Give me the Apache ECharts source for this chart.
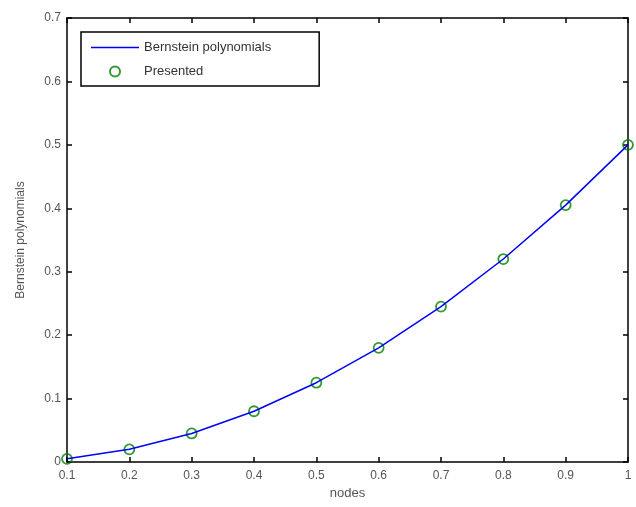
<!DOCTYPE html>
<html><head><meta charset="utf-8">
<script src="https://cdn.jsdelivr.net/npm/echarts@6/dist/echarts.min.js"></script>
<style>html,body{margin:0;padding:0;background:#fff}#c{width:636px;height:507px}</style>
</head><body><div id="c"></div>
<script>
const nodes = [0.1,0.2,0.3,0.4,0.5,0.6,0.7,0.8,0.9,1.0];
const bernstein = [0.005,0.02,0.045,0.08,0.125,0.18,0.245,0.32,0.405,0.5];
const presented = [0.005,0.02,0.045,0.08,0.125,0.18,0.245,0.32,0.405,0.5];
const lineData = nodes.map((x,i)=>[x,bernstein[i]]);
const ptData = nodes.map((x,i)=>[x,presented[i]]);
const font = 'Liberation Sans, Arial, sans-serif';
const lab = {color:'#555', fontSize:12, fontFamily:font};
const chart = echarts.init(document.getElementById('c'));
const tick = {show:true, inside:true, length:5, lineStyle:{color:'#000', width:1.5}};
chart.setOption({
  animation:false,
  grid:{left:67,right:8,top:18,bottom:45},
  legend:{
    show:true,
    orient:'vertical', left:81, top:32,
    backgroundColor:'#fff', borderColor:'#000', borderWidth:1.5,
    padding:[9,48,8,10], itemGap:11, itemWidth:48, itemHeight:10,
    symbolKeepAspect:true,
    textStyle:{color:'#333', fontSize:13, fontFamily:font},
    data:[
      {name:'Bernstein polynomials', icon:'path://M0,0L48,0L48,1.6L0,1.6Z', itemStyle:{color:'#0000ff'}},
      {name:'Presented', icon:'circle', itemStyle:{color:'#fff', borderColor:'#008000', borderWidth:2}}
    ]
  },
  xAxis:[{
    type:'value', min:0.1, max:1, interval:0.1,
    name:'nodes', nameLocation:'middle', nameGap:25, nameTextStyle:{color:'#555',fontSize:13,fontFamily:font},
    axisLine:{show:true,onZero:false,lineStyle:{color:'#000',width:1.5}}, axisTick:tick,
    axisLabel:{...lab, margin:8, formatter:v=>(Math.round(v*10)/10).toString()},
    splitLine:{show:false}
  },{
    type:'value', position:'top', min:0.1, max:1, interval:0.1,
    axisLine:{show:true,onZero:false,lineStyle:{color:'#000',width:1.5}}, axisTick:tick,
    axisLabel:{show:false}, splitLine:{show:false}
  }],
  yAxis:[{
    type:'value', min:0, max:0.7, interval:0.1,
    name:'Bernstein polynomials', nameLocation:'middle', nameGap:40, nameTextStyle:{color:'#555',fontSize:12,fontFamily:font},
    axisLine:{show:true,onZero:false,lineStyle:{color:'#000',width:1.5}}, axisTick:tick,
    axisLabel:{...lab, margin:6, formatter:v=>(Math.round(v*10)/10).toString()},
    splitLine:{show:false}
  },{
    type:'value', position:'right', min:0, max:0.7, interval:0.1,
    axisLine:{show:true,onZero:false,lineStyle:{color:'#000',width:1.5}}, axisTick:tick,
    axisLabel:{show:false}, splitLine:{show:false}
  }],
  series:[
    {name:'Bernstein polynomials', type:'line', data:lineData, showSymbol:false, symbol:'none',
     lineStyle:{color:'#0000ff', width:1.5}, itemStyle:{color:'#0000ff'}},
    {name:'Presented', type:'scatter', data:ptData, symbol:'circle', symbolSize:10,
     itemStyle:{color:'rgba(0,0,0,0)', borderColor:'#008000', borderWidth:1.8}}
  ]
});
</script></body></html>
